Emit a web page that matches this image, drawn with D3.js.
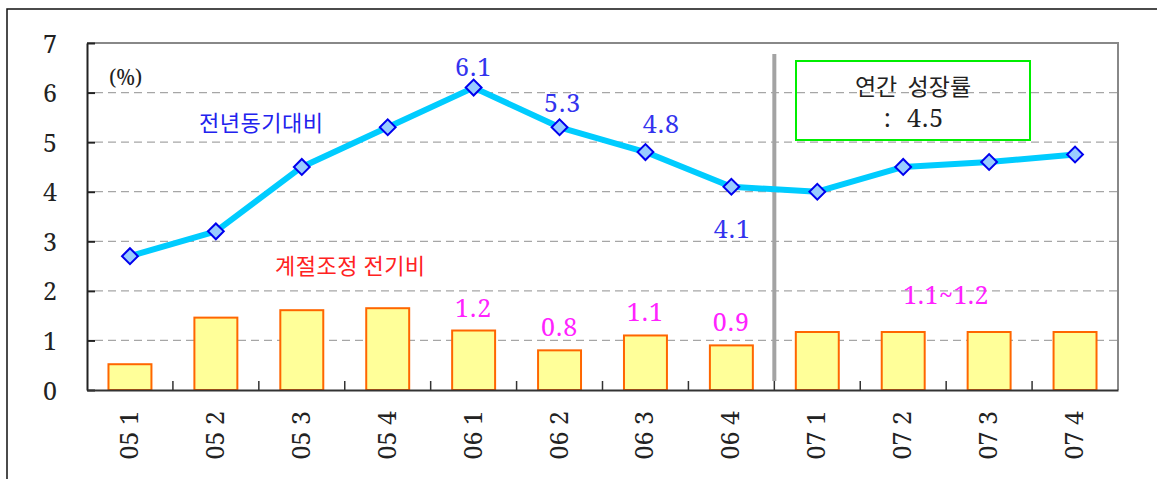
<!DOCTYPE html>
<html>
<head>
<meta charset="utf-8">
<script src="https://cdn.jsdelivr.net/npm/d3@7/dist/d3.min.js"></script>
<style>
  html, body { margin: 0; padding: 0; background: #fff; }
  svg { display: block; }
</style>
</head>
<body>
<svg id="chart" width="1157" height="479"></svg>
<script>
// Quarter labels (year, quarter)
const quarters = ["05 1", "05 2", "05 3", "05 4", "06 1", "06 2", "06 3", "06 4", "07 1", "07 2", "07 3", "07 4"];
// Year-on-year growth (%)
const yoyGrowth = [2.7, 3.2, 4.5, 5.3, 6.1, 5.3, 4.8, 4.1, 4.0, 4.5, 4.6, 4.75];
// Seasonally adjusted quarter-on-quarter growth (%)
const qoqGrowth = [0.52, 1.46, 1.61, 1.65, 1.2, 0.8, 1.1, 0.9, 1.17, 1.17, 1.17, 1.17];
// Y axis ticks
const yTicks = [0, 1, 2, 3, 4, 5, 6, 7];
// Value labels on the line and bars
const yoyLabels = [{ i: 4, text: "6.1" }, { i: 5, text: "5.3" }, { i: 6, text: "4.8" }, { i: 7, text: "4.1" }];
const qoqLabels = [{ i: 4, text: "1.2" }, { i: 5, text: "0.8" }, { i: 6, text: "1.1" }, { i: 7, text: "0.9" }];
const forecastLabel = "1.1~1.2";
const annualTitle = "연간  성장률";
const annualValue = ":  4.5";

const SERIF = "'Noto Serif', 'Liberation Serif', serif";
const KR = "'Noto Sans CJK KR', 'Noto Sans', sans-serif";

const svg = d3.select("#chart");
const m = { left: 87, top: 43, right: 1118, bottom: 390 };

const x = d3.scaleBand().domain(quarters).range([m.left, m.right]);
const xBar = d3.scaleBand().domain(quarters).range([m.left, m.right]).paddingInner(0.5).paddingOuter(0.25);
const y = d3.scaleLinear().domain([0, 7]).range([m.bottom, m.top]);

// Outer frame (top and left edges)
svg.append("path")
  .attr("d", "M7,479 L7,9 L1157,9")
  .attr("fill", "none").attr("stroke", "#111").attr("stroke-width", 1.5);

// Horizontal dashed gridlines
svg.append("g").selectAll("line")
  .data(yTicks.filter(t => t > 0 && t < 7))
  .join("line")
  .attr("x1", m.left + 8).attr("x2", m.right)
  .attr("y1", d => y(d)).attr("y2", d => y(d))
  .attr("stroke", "#a6a6a6").attr("stroke-width", 1.2)
  .attr("stroke-dasharray", "8,5");

// Plot frame: top and right in gray
svg.append("path")
  .attr("d", `M${m.left},${y(7)} L${m.right},${y(7)} L${m.right},${m.bottom}`)
  .attr("fill", "none").attr("stroke", "#888").attr("stroke-width", 2);

// Bars
svg.append("g").selectAll("rect")
  .data(qoqGrowth)
  .join("rect")
  .attr("x", (d, i) => xBar(quarters[i]))
  .attr("width", xBar.bandwidth())
  .attr("y", d => y(d))
  .attr("height", d => y(0) - y(d))
  .attr("fill", "#ffff99").attr("stroke", "#ff6600").attr("stroke-width", 2);

// Separator between actual and forecast quarters
svg.append("line")
  .attr("x1", x(quarters[8])).attr("x2", x(quarters[8]))
  .attr("y1", 54).attr("y2", 381)
  .attr("stroke", "#a3a3a3").attr("stroke-width", 4);

// Y axis
const yAxis = d3.axisLeft(y).tickValues(yTicks).tickFormat(d3.format("d"))
  .tickSizeInner(-8).tickSizeOuter(0).tickPadding(30);
const gy = svg.append("g").attr("transform", `translate(${m.left},0)`).call(yAxis);
gy.select(".domain").attr("stroke", "#222").attr("stroke-width", 2);
gy.selectAll(".tick line").attr("stroke", "#222").attr("stroke-width", 2);
gy.selectAll(".tick text")
  .style("font-family", SERIF).style("font-size", "25px").attr("fill", "#222").attr("dy", "0.36em");

// X axis: labels at band centres, ticks at band boundaries
const xAxis = d3.axisBottom(x).tickSize(0).tickSizeOuter(0);
const gx = svg.append("g").attr("transform", `translate(0,${m.bottom})`).call(xAxis);
gx.select(".domain").attr("stroke", "#333").attr("stroke-width", 2);
gx.selectAll(".tick text")
  .style("font-family", SERIF).style("font-size", "25px").attr("fill", "#222")
  .attr("text-anchor", "end")
  .attr("transform", "rotate(-90)")
  .attr("x", -21).attr("y", -1).attr("dy", "0.36em");
svg.append("g").selectAll("line")
  .data(quarters.slice(1))
  .join("line")
  .attr("x1", d => x(d)).attr("x2", d => x(d))
  .attr("y1", m.bottom).attr("y2", m.bottom - 9)
  .attr("stroke", "#333").attr("stroke-width", 1.5);

// Year-on-year line
const line = d3.line().x((d, i) => x(quarters[i]) + x.bandwidth() / 2).y(d => y(d));
svg.append("path")
  .datum(yoyGrowth)
  .attr("d", line)
  .attr("fill", "none").attr("stroke", "#00ccff").attr("stroke-width", 6)
  .attr("stroke-linejoin", "round");

// Diamond markers
const diamond = d3.symbol().type(d3.symbolSquare).size(125);
svg.append("g").selectAll("path")
  .data(yoyGrowth)
  .join("path")
  .attr("d", diamond)
  .attr("transform", (d, i) => `translate(${x(quarters[i]) + x.bandwidth() / 2},${y(d)}) rotate(45)`)
  .attr("fill", "#99ccff").attr("stroke", "#0000ee").attr("stroke-width", 2);

// Value labels for the line
const yoyOffsets = { 4: [0, -12], 5: [3, -15], 6: [16, -19], 7: [1, 51] };
svg.append("g").selectAll("text")
  .data(yoyLabels)
  .join("text")
  .attr("x", d => x(quarters[d.i]) + x.bandwidth() / 2 + yoyOffsets[d.i][0])
  .attr("y", d => y(yoyGrowth[d.i]) + yoyOffsets[d.i][1])
  .attr("text-anchor", "middle")
  .style("font-family", SERIF).style("font-size", "25px").attr("letter-spacing", "1px")
  .attr("fill", "#3333ee")
  .text(d => d.text);

// Value labels for the bars
const qoqOffsets = { 4: [0, -14], 5: [0, -14], 6: [0, -14], 7: [0, -14] };
svg.append("g").selectAll("text")
  .data(qoqLabels)
  .join("text")
  .attr("x", d => x(quarters[d.i]) + x.bandwidth() / 2 + qoqOffsets[d.i][0])
  .attr("y", d => y(qoqGrowth[d.i]) + qoqOffsets[d.i][1])
  .attr("text-anchor", "middle")
  .style("font-family", SERIF).style("font-size", "25px").attr("letter-spacing", "1px")
  .attr("fill", "#ff22ff")
  .text(d => d.text);

svg.append("text")
  .attr("x", (x(quarters[9]) + x(quarters[10]) + x.bandwidth()) / 2)
  .attr("y", y(qoqGrowth[9]) - 28)
  .attr("text-anchor", "middle")
  .style("font-family", SERIF).style("font-size", "25px").attr("letter-spacing", "0.5px")
  .attr("fill", "#ff22ff")
  .text(forecastLabel);

// Unit and series names
svg.append("text")
  .attr("x", 109).attr("y", 85)
  .style("font-family", SERIF).style("font-size", "21px")
  .attr("fill", "#222").text("(%)");

svg.append("text")
  .attr("x", 199).attr("y", 131)
  .style("font-family", KR).style("font-size", "22px").attr("letter-spacing", "0.5px")
  .attr("fill", "#2222ee").text("전년동기대비");

svg.append("text")
  .attr("x", 275).attr("y", 274)
  .style("font-family", KR).style("font-size", "22px").attr("letter-spacing", "0.5px")
  .attr("fill", "#ff2222").text("계절조정 전기비");

// Annual growth box
svg.append("rect")
  .attr("x", 796).attr("y", 61).attr("width", 234).attr("height", 79)
  .attr("fill", "none").attr("stroke", "#00ee00").attr("stroke-width", 2);
svg.append("text")
  .attr("x", 913).attr("y", 95).attr("text-anchor", "middle")
  .style("font-family", KR).style("font-size", "23px").attr("fill", "#222").style("white-space", "pre")
  .text(annualTitle);
svg.append("text")
  .attr("x", 914).attr("y", 127).attr("text-anchor", "middle")
  .style("font-family", SERIF).style("font-size", "25px").attr("letter-spacing", "1px")
  .attr("fill", "#222").style("white-space", "pre")
  .text(annualValue);
</script>
</body>
</html>
